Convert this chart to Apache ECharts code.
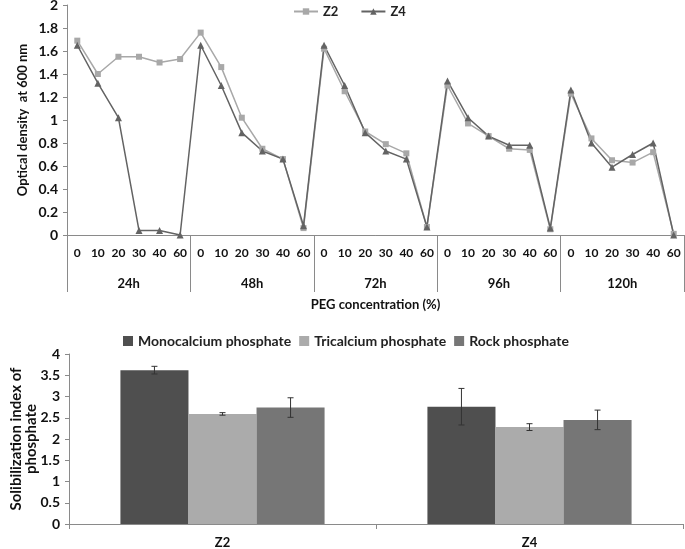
<!DOCTYPE html>
<html><head><meta charset="utf-8">
<script src="https://cdn.jsdelivr.net/npm/echarts@6/dist/echarts.min.js"></script>
<style>html,body{margin:0;padding:0;background:#fff}#c{width:685px;height:549px}</style>
</head><body><div id="c"></div>
<script>
const pegLevels = ['0','10','20','30','40','60'];
const timeGroups = ['24h','48h','72h','96h','120h'];
const z2 = [1.69,1.40,1.55,1.55,1.50,1.53, 1.76,1.46,1.02,0.75,0.66,0.06, 1.62,1.25,0.90,0.79,0.71,0.07, 1.30,0.97,0.86,0.75,0.74,0.05, 1.23,0.84,0.65,0.63,0.72,0.01];
const z4 = [1.65,1.32,1.02,0.04,0.04,0.00, 1.65,1.30,0.89,0.73,0.66,0.08, 1.65,1.30,0.89,0.73,0.66,0.07, 1.34,1.02,0.86,0.78,0.78,0.06, 1.26,0.80,0.59,0.70,0.80,0.00];
const isolates = ['Z2','Z4'];
const phosphates = ['Monocalcium phosphate','Tricalcium phosphate','Rock phosphate'];
const monoVals = [3.62, 2.76];
const triVals = [2.59, 2.28];
const rockVals = [2.74, 2.45];
const monoErr = [0.09, 0.43];
const triErr = [0.03, 0.08];
const rockErr = [0.23, 0.23];

const xCats = [];
timeGroups.forEach(g => pegLevels.forEach(p => xCats.push(p)));
const FONT = 'Lato';
const barVals = [monoVals, triVals, rockVals];
const barErr = [monoErr, triErr, rockErr];
const barColors = ['#4f4f4f','#ababab','#767676'];
const CAT_GAP = 0.335;

const errData = [];
for (let s = 0; s < 3; s++) for (let c = 0; c < isolates.length; c++) errData.push([c, barVals[s][c], barErr[s][c], s]);

const chart = echarts.init(document.getElementById('c'));
chart.setOption({
  animation: false,
  textStyle: {fontFamily: FONT},
  legend: [{
    data: ['Z2','Z4'], top: 0, left: 288, itemWidth: 24, itemHeight: 8, itemGap: 22,
    textStyle: {fontFamily: FONT, fontWeight: 'bold', fontSize: 13, color: '#222'}
  },{
    data: phosphates, top: 329, left: 118, itemWidth: 10, itemHeight: 10, itemGap: 8,
    icon: 'rect',
    textStyle: {fontFamily: FONT, fontWeight: 'bold', fontSize: 14, color: '#222'}
  }],
  grid: [
    {left: 67, right: 1, top: 5, bottom: 314, outerBoundsMode: 'none', containLabel: false},
    {left: 69, right: 2, top: 354, bottom: 25, outerBoundsMode: 'none', containLabel: false}
  ],
  xAxis: [{
    gridIndex: 0, type: 'category', data: xCats, boundaryGap: true,
    axisLine: {lineStyle: {color: '#8a8a8a'}}, axisTick: {show: false},
    axisLabel: {interval: 0, margin: 12, fontFamily: FONT, fontWeight: 'bold', fontSize: 12, color: '#111'}
  },{
    gridIndex: 0, type: 'category', data: timeGroups, position: 'bottom',
    axisLine: {lineStyle: {color: '#8a8a8a'}},
    axisTick: {show: true, length: 57, inside: false, lineStyle: {color: '#8a8a8a'}},
    axisLabel: {margin: 42, fontFamily: FONT, fontWeight: 'bold', fontSize: 13, color: '#111'},
    name: 'PEG concentration (%)', nameLocation: 'middle', nameGap: 63, nameMoveOverlap: false,
    nameTextStyle: {fontFamily: FONT, fontWeight: 'bold', fontSize: 13, color: '#111'}
  },{
    gridIndex: 1, type: 'category', data: isolates,
    axisLine: {lineStyle: {color: '#8a8a8a'}},
    axisTick: {show: true, length: 5, lineStyle: {color: '#8a8a8a'}},
    axisLabel: {margin: 12, fontFamily: FONT, fontWeight: 'bold', fontSize: 13, color: '#111'}
  }],
  yAxis: [{
    gridIndex: 0, type: 'value', min: 0, max: 2, interval: 0.2,
    splitLine: {show: false},
    axisLine: {show: true, lineStyle: {color: '#8a8a8a'}},
    axisTick: {show: true, length: 4, lineStyle: {color: '#8a8a8a'}},
    axisLabel: {margin: 9, fontFamily: FONT, fontWeight: 'bold', fontSize: 14, color: '#111'},
    name: 'Optical density  at 600 nm', nameLocation: 'middle', nameGap: 38, nameMoveOverlap: false,
    nameTextStyle: {fontFamily: FONT, fontWeight: 'bold', fontSize: 13, color: '#111'}
  },{
    gridIndex: 1, type: 'value', min: 0, max: 4, interval: 0.5,
    splitLine: {show: false},
    axisLine: {show: true, lineStyle: {color: '#8a8a8a'}},
    axisTick: {show: true, length: 4, lineStyle: {color: '#8a8a8a'}},
    axisLabel: {margin: 9, fontFamily: FONT, fontWeight: 'bold', fontSize: 14, color: '#111'},
    name: 'Solibilization index of\nphosphate', nameLocation: 'middle', nameGap: 30, nameMoveOverlap: false,
    nameTextStyle: {fontFamily: FONT, fontWeight: 'bold', fontSize: 15, color: '#111', lineHeight: 15}
  }],
  series: [
    {name: 'Z2', type: 'line', xAxisIndex: 0, yAxisIndex: 0, data: z2,
     color: '#a8a8a8', symbol: 'rect', symbolSize: 6, lineStyle: {width: 1.5, color: '#a8a8a8'}, itemStyle: {color: '#a8a8a8'}},
    {name: 'Z4', type: 'line', xAxisIndex: 0, yAxisIndex: 0, data: z4,
     color: '#636363', symbol: 'triangle', symbolSize: 7, lineStyle: {width: 1.5, color: '#636363'}, itemStyle: {color: '#636363'}},
    ...phosphates.map((p, i) => ({
      name: p, type: 'bar', xAxisIndex: 2, yAxisIndex: 1, data: barVals[i],
      barGap: '0%', barCategoryGap: (CAT_GAP * 100) + '%',
      itemStyle: {color: barColors[i]}, color: barColors[i]
    })),
    {type: 'custom', xAxisIndex: 2, yAxisIndex: 1, data: errData, z: 10,
     renderItem: function (params, api) {
       const c = api.value(0), v = api.value(1), e = api.value(2), s = api.value(3);
       const bandW = api.size([1, 0])[0];
       const bw = bandW * (1 - CAT_GAP) / 3;
       const center = api.coord([c, v]);
       const x = center[0] + (s - 1) * bw;
       const top = api.coord([c, v + e])[1];
       const bot = api.coord([c, v - e])[1];
       const cap = 3;
       const st = {stroke: '#333', lineWidth: 1};
       return {type: 'group', children: [
         {type: 'line', shape: {x1: x, y1: top, x2: x, y2: bot}, style: st},
         {type: 'line', shape: {x1: x - cap, y1: top, x2: x + cap, y2: top}, style: st},
         {type: 'line', shape: {x1: x - cap, y1: bot, x2: x + cap, y2: bot}, style: st}
       ]};
     }}
  ]
});
</script></body></html>
